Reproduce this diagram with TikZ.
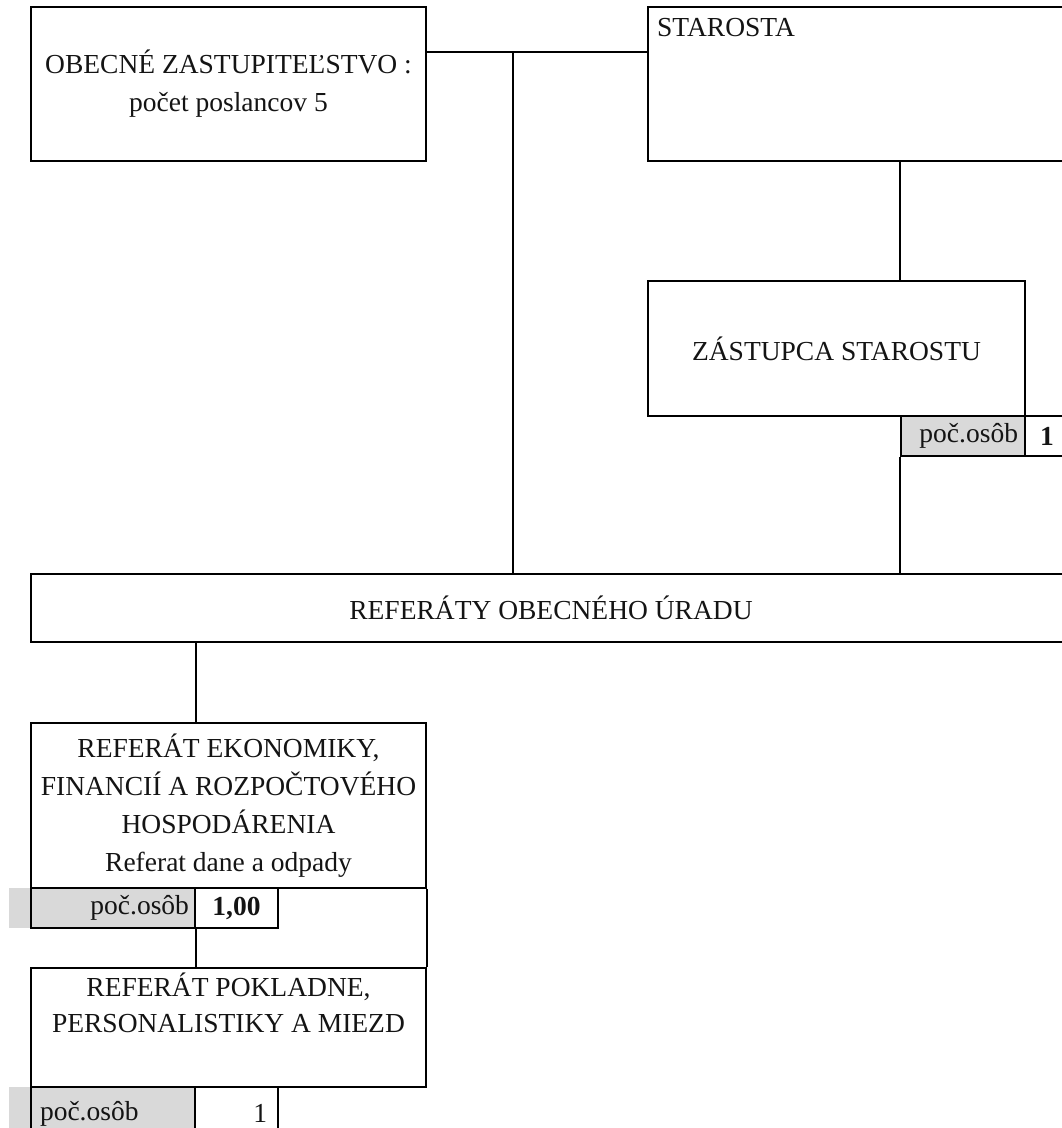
\documentclass[tikz,border=0pt]{standalone}
\usepackage{fontspec}
\setmainfont{Liberation Serif}
\usepackage{tikz}

\begin{document}
\begin{tikzpicture}[x=1pt,y=-1pt]
\definecolor{linecolor}{RGB}{0,0,0}
\definecolor{textcolor}{RGB}{20,20,20}
\definecolor{cellcolor}{RGB}{217,217,217}
\tikzset{
  orgbox/.style={draw=linecolor,line width=2pt,rectangle,inner sep=0pt,align=center,text=textcolor,font=\fontsize{27.5}{38}\selectfont},
  orgtext/.style={inner sep=0pt,align=center,text=textcolor,font=\fontsize{27.5}{36}\selectfont},
  cell/.style={draw=linecolor,line width=2pt,rectangle,inner ysep=0pt,minimum height=40pt,text=textcolor,font=\fontsize{27.5}{38}\selectfont},
  link/.style={draw=linecolor,line width=2pt}
}
\useasboundingbox (0,0) rectangle (1062,1128);
% top row
\node [orgbox,minimum width=395pt,minimum height=154pt] (oz) at (228.5,84) {OBECNÉ ZASTUPITEĽSTVO :\\počet poslancov 5};
\node [orgbox,minimum width=420pt,minimum height=154pt] (star) at (858,84) {};
\node [orgtext,anchor=base west] (startext) at (657,36) {STAROSTA};
\node [orgbox,minimum width=377pt,minimum height=135pt] (zast) at (836.5,348.5) {ZÁSTUPCA STAROSTU};
\node [cell,fill=cellcolor,inner xsep=7pt,text width=110pt,align=right] (zastcnt) at (963,436) {poč.osôb};
\node [cell,minimum width=44pt,inner xsep=0pt,font=\fontsize{27.5}{38}\selectfont\bfseries] (zastnum) at (1047,436) {1};
% office
\node [orgbox,minimum width=1040pt,minimum height=68pt] (ref) at (551,608) {REFERÁTY OBECNÉHO ÚRADU};
\node [orgbox,minimum width=395pt,minimum height=165pt] (ekon) at (228.5,805.5) {REFERÁT EKONOMIKY,\\FINANCIÍ A ROZPOČTOVÉHO\\HOSPODÁRENIA\\Referat dane a odpady};
\fill [cellcolor] (9,888) rectangle (31,928);
\node [cell,fill=cellcolor,inner xsep=6pt,text width=152pt,align=right] (ekoncnt) at (113,908) {poč.osôb};
\node [cell,minimum width=83pt,inner xsep=0pt,font=\fontsize{27.5}{38}\selectfont\bfseries] (ekonnum) at (236.5,908) {1,00};
\node [orgbox,minimum width=395pt,minimum height=119pt] (pokl) at (228.5,1027.5) {};
\node [orgtext,below] (pokltext) at ([yshift=-6pt]pokl.north) {REFERÁT POKLADNE,\\PERSONALISTIKY A MIEZD};
\fill [cellcolor] (9,1087) rectangle (31,1140);
\node [cell,fill=cellcolor,minimum height=53pt,inner xsep=9pt,text width=146pt,align=left] (poklcnt) at (113,1113.5) {\raisebox{-4pt}{poč.osôb}};
\node [cell,minimum height=53pt,inner xsep=11pt,text width=61pt,align=right] (poklnum) at (236.5,1113.5) {\raisebox{-4pt}{1}};
% connectors
\coordinate (ozstar) at (513,52);
\draw [link] (oz.east |- ozstar) -- (star.west |- ozstar);
\draw [link] (ozstar) -- (ozstar |- ref.north);
\draw [link] (star.south -| zastcnt.west) -- (zast.north -| zastcnt.west);
\draw [link] (zastcnt.south west) -- (ref.north -| zastcnt.west);
\draw [link] (ekoncnt.east |- ref.south) -- (ekoncnt.east |- ekon.north);
\draw [link] (ekon.south east) -- (pokl.north east);
\draw [link] (ekoncnt.south east) -- (ekoncnt.south east |- pokl.north);
\end{tikzpicture}
\end{document}
